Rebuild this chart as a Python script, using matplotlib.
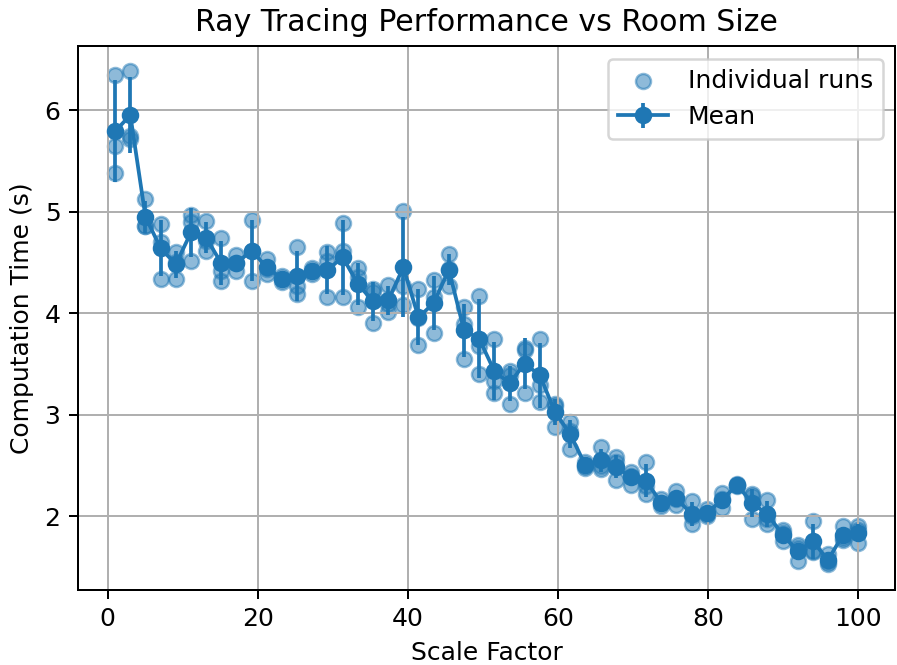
import numpy as np
import matplotlib
matplotlib.use("Agg")
import matplotlib.pyplot as plt

scale_factors = np.linspace(1, 100, 50)

runs = [
    [6.35, 5.65, 5.38],
    [6.39, 5.75, 5.72],
    [5.13, 4.86, 4.86],
    [4.88, 4.70, 4.34],
    [4.60, 4.51, 4.34],
    [4.97, 4.90, 4.52],
    [4.91, 4.71, 4.61],
    [4.74, 4.42, 4.32],
    [4.57, 4.50, 4.42],
    [4.92, 4.61, 4.32],
    [4.53, 4.44, 4.39],
    [4.37, 4.34, 4.31],
    [4.65, 4.27, 4.19],
    [4.45, 4.42, 4.39],
    [4.60, 4.52, 4.16],
    [4.89, 4.61, 4.16],
    [4.45, 4.36, 4.06],
    [4.24, 4.21, 3.90],
    [4.28, 4.09, 4.01],
    [5.01, 4.27, 4.08],
    [4.24, 3.95, 3.69],
    [4.33, 4.16, 3.81],
    [4.58, 4.44, 4.27],
    [4.06, 3.89, 3.55],
    [4.17, 3.68, 3.40],
    [3.75, 3.33, 3.21],
    [3.43, 3.39, 3.11],
    [3.66, 3.64, 3.21],
    [3.75, 3.29, 3.13],
    [3.11, 3.09, 2.88],
    [2.93, 2.84, 2.66],
    [2.53, 2.50, 2.48],
    [2.68, 2.50, 2.47],
    [2.58, 2.53, 2.36],
    [2.44, 2.40, 2.31],
    [2.53, 2.30, 2.22],
    [2.17, 2.13, 2.10],
    [2.25, 2.17, 2.11],
    [2.15, 2.00, 1.92],
    [2.07, 2.02, 2.00],
    [2.23, 2.17, 2.08],
    [2.32, 2.31, 2.30],
    [2.22, 2.20, 1.97],
    [2.165, 1.975, 1.92],
    [1.86, 1.84, 1.76],
    [1.72, 1.685, 1.56],
    [1.95, 1.66, 1.65],
    [1.63, 1.55, 1.53],
    [1.90, 1.79, 1.77],
    [1.90, 1.865, 1.74],
]

runs_arr = np.array(runs)
means = runs_arr.mean(axis=1)
stds = runs_arr.std(axis=1, ddof=1)

W, H, DPI = 897, 665, 180
fig, ax = plt.subplots(figsize=(W / DPI, H / DPI), dpi=DPI)
fig.subplots_adjust(left=78 / W, right=895.5 / W, top=1 - 46 / H, bottom=1 - 590 / H)

xs = np.repeat(scale_factors, runs_arr.shape[1])
ax.scatter(xs, runs_arr.ravel(), color="C0", alpha=0.5, label="Individual runs")
ax.errorbar(scale_factors, means, yerr=stds, fmt="-o", color="C0", label="Mean")

ax.set_xlabel("Scale Factor")
ax.set_ylabel("Computation Time (s)")
ax.set_title("Ray Tracing Performance vs Room Size")
ax.grid(True)
ax.legend(loc="upper right")
fig.savefig("out.png", dpi=DPI)
